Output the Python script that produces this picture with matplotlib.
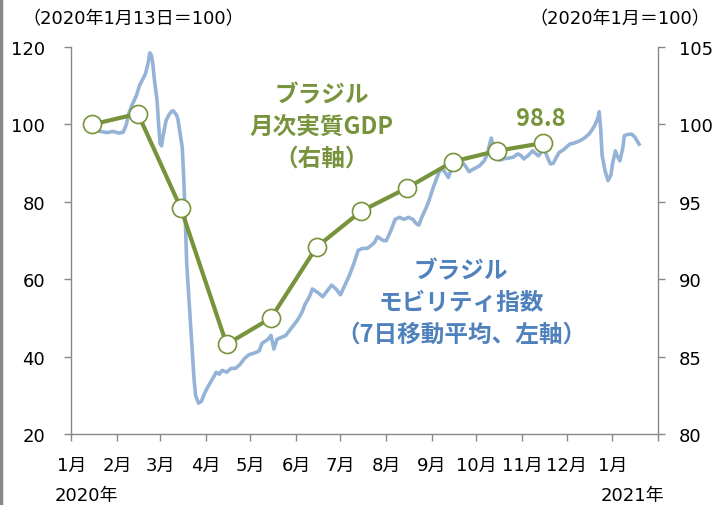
import matplotlib
matplotlib.use("Agg")
import matplotlib.pyplot as plt
import numpy as np

plt.rcParams["font.family"] = ["DejaVu Sans", "Noto Sans CJK JP"]
JP = ["Noto Sans CJK JP", "DejaVu Sans"]

# mobility index (7-day avg, 2020-01-13 = 100), days since 2020-01-01
mob_days = [13, 16, 20, 24, 28, 32, 35, 37, 39, 41, 44, 46, 48, 50, 52, 53, 54, 55, 56, 58,
            59, 60, 61, 62, 64, 66, 68, 69, 71, 72, 73, 75, 76, 77, 78, 80, 81, 82, 83, 84,
            86, 88, 90, 92, 95, 98, 100, 102, 105, 108, 111, 114, 117, 120, 124, 127, 129, 131, 133, 135,
            137, 139, 142, 145, 148, 150, 153, 156, 158, 161, 163, 165, 167, 170, 173, 176, 179, 182, 185, 188,
            191, 194, 197, 200, 202, 205, 207, 209, 211, 213, 216, 219, 222, 225, 228, 231, 233, 235, 237, 240,
            242, 245, 247, 249, 251, 253, 255, 257, 260, 263, 265, 267, 269, 272, 276, 279, 281, 283, 284, 285,
            286, 288, 290, 293, 296, 299, 302, 304, 306, 309, 312, 314, 316, 318, 320, 322, 324, 326, 328, 330,
            333, 337, 340, 344, 347, 350, 352, 354, 356, 357, 358, 359, 361, 363, 365, 366, 368, 369, 371, 373,
            374, 376, 379, 381, 382, 384]
mob_vals = [99.5, 98.5, 98.2, 97.9, 98.2, 97.8, 98.0, 99.8, 103, 105, 107.5, 110, 111.5, 113, 116, 118.5, 118, 116, 112, 106,
            100, 95, 94.5, 97, 101, 102.5, 103.5, 103.5, 102.5, 101.5, 99, 94, 86, 76, 64, 52, 46, 40, 34, 30,
            28, 28.5, 30.5, 32, 34, 36, 35.5, 36.5, 36, 37, 37, 38, 39.5, 40.5, 41, 41.5, 43.5, 44, 44.5, 45.5,
            42, 44.5, 45, 45.5, 47, 48, 49.5, 51.5, 53.5, 55.5, 57.5, 57, 56.5, 55.5, 57, 58.5, 57.5, 56, 58.5, 61,
            64, 67.5, 68, 68, 68.5, 69.5, 71, 70.5, 70, 70, 72.5, 75.5, 76, 75.5, 76, 75.5, 74.5, 74, 76, 78.5,
            80.5, 84, 86, 88, 88.5, 87.5, 86.3, 88.5, 88.5, 89.5, 90, 89, 87.8, 88.5, 89.3, 90.5, 92, 95, 96.5, 95,
            93.5, 92, 90.8, 91.2, 91.3, 91.6, 92.4, 92, 91.1, 92, 93.2, 92.5, 91.9, 93, 93.5, 91.5, 89.8, 90, 91.5, 92.8,
            93.5, 94.9, 95.2, 95.8, 96.5, 97.5, 98.5, 99.8, 101.5, 103.3, 99, 92, 88, 85.5, 87, 89.8, 93.2, 92, 90.6, 94,
            97.1, 97.4, 97.5, 96.8, 96.2, 94.9]

# monthly real GDP (2020-01 = 100)
gdp_months = ["2020-01-15", "2020-02-15", "2020-03-15", "2020-04-15", "2020-05-15", "2020-06-15",
              "2020-07-15", "2020-08-15", "2020-09-15", "2020-10-15", "2020-11-15"]
gdp_vals = [100.0, 100.7, 94.6, 85.8, 87.5, 92.1, 94.4, 95.9, 97.6, 98.3, 98.8]

month_labels = ["1月", "2月", "3月", "4月", "5月", "6月", "7月", "8月", "9月", "10月", "11月", "12月", "1月"]

blue = "#95B3D7"
green = "#77933C"
label_blue = "#4F81BD"
gray = "#888888"

mob_dates = np.datetime64("2020-01-01") + np.array(mob_days, dtype="timedelta64[D]")
gdp_dates = np.array(gdp_months, dtype="datetime64[D]")

fig = plt.figure(figsize=(7.14, 5.06), dpi=100)
ax = fig.add_axes([0.100, 0.140, 0.822, 0.765])
ax2 = ax.twinx()

ax.plot(mob_dates, mob_vals, color=blue, lw=2.6, solid_joinstyle="round", zorder=2)
ax2.plot(gdp_dates, gdp_vals, color=green, lw=3, marker="o", markersize=13,
         markerfacecolor="white", markeredgecolor=green, markeredgewidth=1.2, zorder=3)

ax.set_ylim(20, 120)
ax.set_yticks(np.arange(20, 121, 20))
ax2.set_ylim(80, 105)
ax2.set_yticks(np.arange(80, 106, 5))

ax.set_xlim(np.datetime64("2020-01-01"), np.datetime64("2021-02-01"))
ticks = np.arange(np.datetime64("2020-01"), np.datetime64("2021-03"), np.timedelta64(1, "M")).astype("datetime64[D]")
ax.set_xticks(ticks)
ax.set_xticklabels(month_labels + [""])

for a in (ax, ax2):
    a.spines["top"].set_visible(False)
    for s in ("left", "right", "bottom"):
        a.spines[s].set_color(gray)
        a.spines[s].set_linewidth(1)
    a.tick_params(axis="both", colors=gray, length=5, width=1, labelsize=13,
                  labelcolor="black")
ax.spines["right"].set_visible(False)
ax2.spines["left"].set_visible(False)
ax2.spines["bottom"].set_visible(False)
ax.tick_params(axis="x", pad=11)
ax.tick_params(axis="y", pad=14)
ax2.tick_params(axis="y", pad=10)

ax.set_zorder(ax2.get_zorder() - 1)
ax2.patch.set_visible(False)

fig.text(0.031, 0.962, "（2020年1月13日＝100）", fontsize=13, ha="left", va="center")
fig.text(0.995, 0.962, "（2020年1月＝100）", fontsize=13, ha="right", va="center")
fig.text(0.076, 0.020, "2020年", fontsize=13, ha="left", va="center")
fig.text(0.930, 0.020, "2021年", fontsize=13, ha="right", va="center")

ax2.annotate("ブラジル\n月次実質GDP\n（右軸）", xy=(322, 506 - 127), xycoords="figure pixels",
             ha="center", va="center", fontsize=17, fontweight="bold", color=green,
             linespacing=1.4, family=JP)
ax2.annotate(f"{gdp_vals[-1]:.1f}", xy=(541, 506 - 119), xycoords="figure pixels",
             ha="center", va="center", fontsize=17, fontweight="bold", color=green, family=JP)
ax2.annotate("ブラジル\nモビリティ指数\n（7日移動平均、左軸）", xy=(461, 506 - 303), xycoords="figure pixels",
             ha="center", va="center", fontsize=17, fontweight="bold", color=label_blue,
             linespacing=1.4, family=JP)

fig.add_artist(plt.Line2D([0.002, 0.002], [0, 1], transform=fig.transFigure, color=gray, lw=2.5))

fig.savefig("out.png", dpi=100)
